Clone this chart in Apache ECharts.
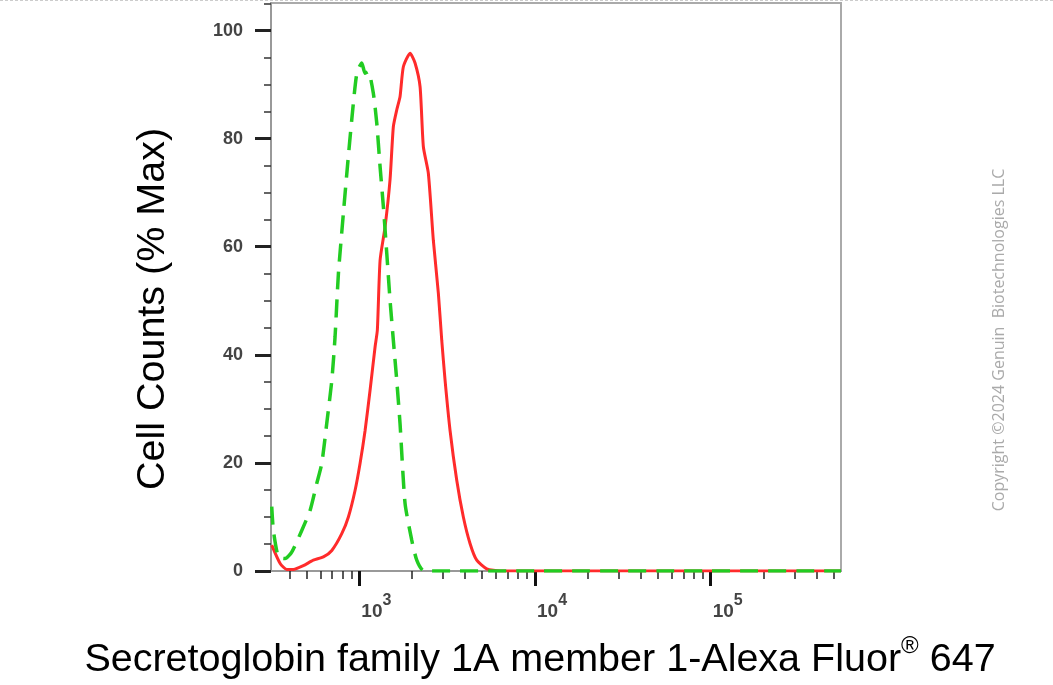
<!DOCTYPE html>
<html><head><meta charset="utf-8">
<script src="https://cdn.jsdelivr.net/npm/echarts@6/dist/echarts.min.js"></script>
<style>html,body{margin:0;padding:0;background:#fff}#c{width:1053px;height:685px}</style>
</head><body><div id="c"></div>
<script>
// Sample (red, solid)
const sampleX = [317, 354, 386, 421, 480, 547, 624, 697, 794, 866, 945, 1009, 1078, 1151, 1229, 1266, 1312, 1401, 1495, 1561, 1632, 1705, 1780, 1944, 2075, 2216, 2314, 2470, 2637, 2816, 2944, 3075, 3283, 3584, 3908, 4266, 4658, 5311, 6322, 10000, 100000, 552000];
const sampleY = [4.8, 1.4, 0.3, 0.3, 1.0, 2.0, 2.6, 3.8, 6.9, 10.0, 14.9, 19.9, 26.0, 33.5, 41.5, 44.6, 57.5, 63.7, 72.4, 82.2, 85.3, 87.8, 93.3, 95.8, 94.0, 89.6, 78.5, 73.6, 61.2, 51.4, 42.7, 35.3, 26.0, 16.8, 10.0, 5.1, 2.0, 0.4, 0, 0, 0, 0];
// Control (green, dashed)
const controlX = [317, 324, 346, 378, 412, 470, 524, 572, 611, 652, 697, 727, 760, 811, 855, 905, 967, 1032, 1078, 1125, 1201, 1256, 1312, 1370, 1432, 1495, 1561, 1632, 1704, 1820, 1987, 2122, 2313, 3000, 10000, 100000, 552000];
const controlY = [11.9, 7.5, 2.6, 2.3, 3.5, 7.5, 11.2, 16.2, 19.9, 27.3, 35.3, 43.3, 55.1, 66.2, 74.8, 83.5, 92.1, 94.0, 92.1, 92.4, 88.4, 82.9, 74.8, 67.4, 58.8, 50.1, 42.7, 35.3, 27.3, 12.5, 5.7, 2.0, 0.1, 0, 0, 0, 0];

const xMajorTicks = [1000, 10000, 100000];
const xMinorTicks = [400, 500, 600, 700, 800, 900, 2000, 3000, 4000, 5000, 6000, 7000, 8000, 9000, 20000, 30000, 40000, 50000, 60000, 70000, 80000, 90000, 200000, 300000, 400000, 500000];
const yMajorTicks = [0, 20, 40, 60, 80, 100];
const yMinorTicks = [5, 10, 15, 25, 30, 35, 45, 50, 55, 65, 70, 75, 85, 90, 95, 105];
const xTitleMain = 'Secretoglobin family 1A member 1-Alexa Fluor';
const xTitleSup = '®';
const xTitleEnd = ' 647';
const yTitle = 'Cell Counts (% Max)';
const copyright = 'Copyright ©2024 Genuin  Biotechnologies LLC';

const xMin = 314, xMax = 552000, yMin = 0, yMax = 105.1;

const pair = (xs, ys) => xs.map((x, i) => [x, ys[i]]);
const font = 'Liberation Sans, Arial, Helvetica, sans-serif';

const chart = echarts.init(document.getElementById('c'));
chart.setOption({
  animation: false,
  backgroundColor: '#fff',
  grid: { left: 271, right: 212, top: 3, bottom: 114, show: true, borderColor: '#aaa', borderWidth: 2, backgroundColor: 'transparent', containLabel: false, outerBoundsMode: 'none' },
  xAxis: [
    { type: 'log', logBase: 10, min: xMin, max: xMax, position: 'bottom',
      axisLine: { show: true, onZero: false, lineStyle: { color: '#999', width: 2 } },
      axisTick: { show: true, customValues: xMajorTicks, length: 15, lineStyle: { color: '#111', width: 3 } },
      axisLabel: { show: true, customValues: xMajorTicks, margin: 22, align: 'left', padding: [0, 0, 0, 2],
        formatter: v => '{b|10}{s|' + Math.round(Math.log10(v)) + '}',
        rich: { b: { fontSize: 19, fontFamily: font, color: '#444', fontWeight: 'bold', verticalAlign: 'bottom', lineHeight: 28 },
                s: { fontSize: 16, fontFamily: font, color: '#444', fontWeight: 'bold', verticalAlign: 'top', lineHeight: 28 } } },
      splitLine: { show: false }, minorTick: { show: false } },
    { type: 'log', logBase: 10, min: xMin, max: xMax, position: 'bottom',
      axisLine: { show: false, onZero: false },
      axisTick: { show: true, customValues: xMinorTicks, length: 8, lineStyle: { color: '#222', width: 1.5 } },
      axisLabel: { show: false }, splitLine: { show: false } }
  ],
  yAxis: [
    { type: 'value', min: yMin, max: yMax, position: 'left',
      axisLine: { show: true, onZero: false, lineStyle: { color: '#999', width: 2 } },
      axisTick: { show: true, customValues: yMajorTicks, length: 16, lineStyle: { color: '#222', width: 3 } },
      axisLabel: { show: true, customValues: yMajorTicks, margin: 28, fontSize: 18, fontWeight: 'bold', fontFamily: font, color: '#444' },
      splitLine: { show: false } },
    { type: 'value', min: yMin, max: yMax, position: 'left',
      axisLine: { show: false, onZero: false },
      axisTick: { show: true, customValues: yMinorTicks, length: 7, lineStyle: { color: '#333', width: 1.5 } },
      axisLabel: { show: false }, splitLine: { show: false } }
  ],
  series: [
    { type: 'line', name: 'sample', xAxisIndex: 0, yAxisIndex: 0, data: pair(sampleX, sampleY), symbol: 'none', smooth: 0.2,
      lineStyle: { color: '#ff2b2b', width: 3 }, z: 3 },
    { type: 'line', name: 'control', xAxisIndex: 0, yAxisIndex: 0, data: pair(controlX, controlY), symbol: 'none', smooth: 0.2,
      lineStyle: { color: '#22cc22', width: 3.5, type: [18, 10] }, z: 4 }
  ],
  graphic: [
    { type: 'line', shape: { x1: 0, y1: 0.5, x2: 1053, y2: 0.5 }, style: { stroke: '#ccc', lineWidth: 1, lineDash: [3, 2] }, silent: true },
    { type: 'text', x: 540, y: 657, style: { text: '{a|' + xTitleMain + '}{r|' + xTitleSup + '}{a|' + xTitleEnd + '}', align: 'center', verticalAlign: 'middle',
        rich: { a: { fontSize: 39.5, fontFamily: font, fill: '#000', verticalAlign: 'bottom', lineHeight: 46 },
                r: { fontSize: 24, fontFamily: font, fill: '#000', verticalAlign: 'top', lineHeight: 46 } } } },
    { type: 'text', x: 153, y: 309, rotation: Math.PI / 2, style: { text: yTitle, align: 'center', verticalAlign: 'middle', fontSize: 39.5, fontFamily: font, fill: '#000' } },
    { type: 'text', x: 999, y: 340, rotation: Math.PI / 2, style: { text: copyright, align: 'center', verticalAlign: 'middle', fontSize: 16, fontFamily: 'Open Sans, sans-serif', fill: '#aaa' } }
  ]
});
</script></body></html>
